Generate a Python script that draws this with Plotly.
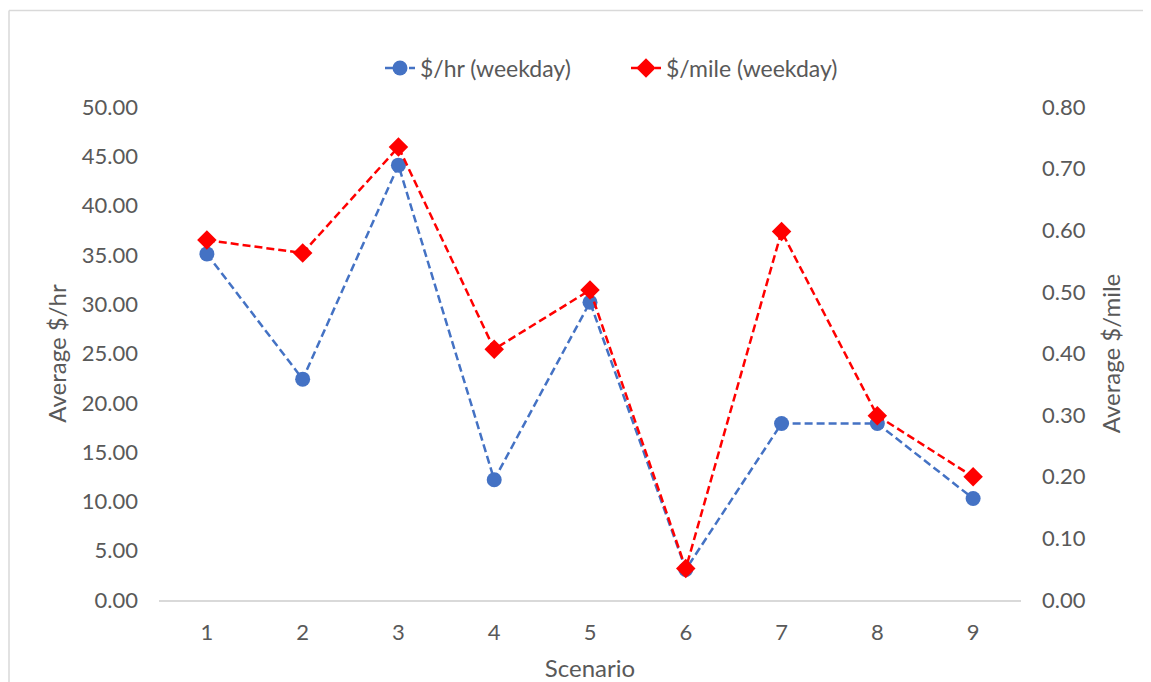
import plotly.graph_objects as go

scenarios = ["1", "2", "3", "4", "5", "6", "7", "8", "9"]
per_hr = [35.1, 22.4, 44.1, 12.2, 30.2, 3.1, 17.9, 17.9, 10.3]
per_mile = [0.584, 0.563, 0.735, 0.407, 0.503, 0.051, 0.598, 0.299, 0.200]

OFF = 8  # page body margin in the browser
W, H = 1151 - OFF, 682 - OFF
L, T = 159 - OFF, 107 - OFF
PW, PH = 862, 493
R, B = W - L - PW, H - T - PH

font_family = "Lato, 'Open Sans', sans-serif"
txt = "#595959"

fig = go.Figure()
fig.add_trace(go.Scatter(
    x=scenarios, y=per_hr, name="$/hr (weekday)", mode="lines+markers",
    line=dict(color="#4472C4", width=2.5, dash="8px,4px"),
    marker=dict(symbol="circle", size=15, color="#4472C4"),
    yaxis="y",
))
fig.add_trace(go.Scatter(
    x=scenarios, y=per_mile, name="$/mile (weekday)", mode="lines+markers",
    line=dict(color="#FF0000", width=2.5, dash="8px,4px"),
    marker=dict(symbol="diamond", size=15, color="#FF0000"),
    yaxis="y2",
))

def px2x(p):
    return (p - OFF - L) / PW

def py2y(p):
    return (H - B - (p - OFF)) / PH

fig.update_layout(
    width=W, height=H,
    margin=dict(l=L, r=R, t=T, b=B, autoexpand=False),
    paper_bgcolor="white", plot_bgcolor="white",
    font=dict(family=font_family, size=22, color=txt),
    showlegend=True,
    legend=dict(orientation="h", x=px2x(626), xanchor="center", y=py2y(68), yanchor="middle",
                font=dict(size=23, color=txt), entrywidth=201, entrywidthmode="pixels",
                traceorder="normal"),
    xaxis=dict(
        type="category", range=[-0.5, 8.5], showgrid=False,
        showline=True, linecolor="#D9D9D9", linewidth=1.5,
        ticks="", ticklabelstandoff=12, tickfont=dict(size=22, color=txt),
        title=dict(text="Scenario", font=dict(size=24, color=txt), standoff=16),
        zeroline=False,
    ),
    yaxis=dict(
        range=[0, 50], dtick=5, tickformat=".2f", showgrid=False, zeroline=False,
        showline=False, ticks="", ticklabelstandoff=20,
        tickfont=dict(size=22, color=txt),
        title=dict(text="Average $/hr", font=dict(size=24, color=txt), standoff=8),
    ),
    yaxis2=dict(
        range=[0, 0.8], dtick=0.1, tickformat=".2f", showgrid=False, zeroline=False,
        showline=False, ticks="", ticklabelstandoff=20, overlaying="y", side="right",
        tickfont=dict(size=22, color=txt),
        title=dict(text="Average $/mile", font=dict(size=24, color=txt), standoff=18),
    ),
    shapes=[
        dict(type="line", xref="paper", yref="paper", x0=px2x(9), x1=px2x(9),
             y0=py2y(10.5), y1=py2y(700), line=dict(color="#D9D9D9", width=1.5)),
        dict(type="line", xref="paper", yref="paper", x0=px2x(9), x1=px2x(1160),
             y0=py2y(10.5), y1=py2y(10.5), line=dict(color="#D9D9D9", width=1.5)),
    ],
)

fig.write_html("out.html")
